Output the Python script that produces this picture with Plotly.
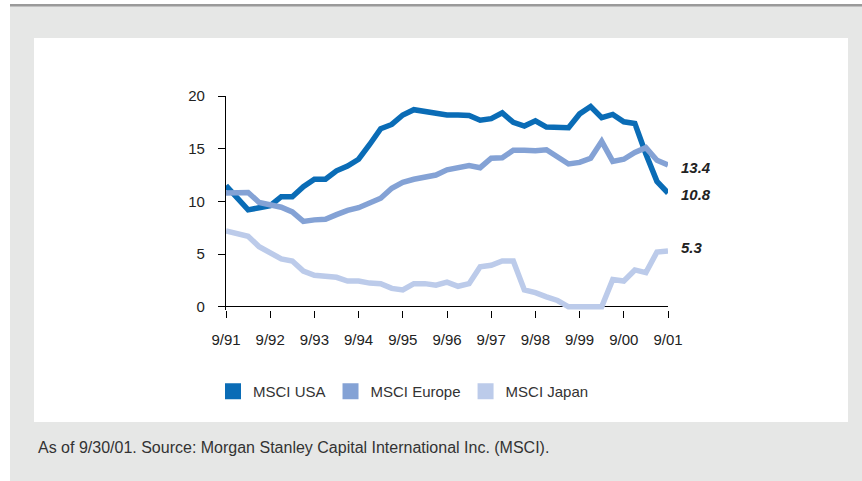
import plotly.graph_objects as go

quarters = list(range(41))
tick_pos = [0, 4, 8, 12, 16, 20, 24, 28, 32, 36, 40]
tick_labels = ["9/91", "9/92", "9/93", "9/94", "9/95", "9/96", "9/97", "9/98", "9/99", "9/00", "9/01"]

usa = [11.5, 10.35, 9.2, 9.4, 9.6, 10.45, 10.45, 11.4, 12.1, 12.1, 12.9, 13.36, 14.0,
       15.4, 16.9, 17.3, 18.2, 18.7, 18.5, 18.3, 18.2, 18.2, 18.15, 17.7, 17.85, 18.4,
       17.5, 17.15, 17.65, 17.05, 17.0, 17.0, 18.3, 19.0, 17.95, 18.25, 17.55, 17.4,
       14.5, 11.9, 10.8]
europe = [10.8, 10.85, 10.85, 9.9, 9.65, 9.45, 9.0, 8.1, 8.25, 8.3, 8.75, 9.15, 9.4,
          9.9, 10.3, 11.25, 11.8, 12.1, 12.35, 12.5, 13.0, 13.25, 13.4, 13.2, 14.1, 14.15,
          14.85, 14.85, 14.8, 14.9, 14.25, 13.55, 13.7, 14.1, 15.7, 13.8, 14.0, 14.65,
          15.1, 13.9, 13.45]
japan = [7.2, 6.9, 6.7, 5.7, 5.1, 4.55, 4.35, 3.4, 3.0, 2.9, 2.8, 2.45, 2.45, 2.25,
         2.2, 1.75, 1.6, 2.2, 2.2, 2.05, 2.35, 1.95, 2.2, 3.8, 3.95, 4.35, 4.35, 1.6,
         1.35, 0.95, 0.6, 0, 0, 0, 0, 2.6, 2.45, 3.5, 3.25, 5.2, 5.3]

series_names = ["MSCI USA", "MSCI Europe", "MSCI Japan"]
end_labels = ["10.8", "13.4", "5.3"]
colors = ["#0a6cb6", "#84a2d5", "#bccbea"]
footer = "As of 9/30/01. Source: Morgan Stanley Capital International Inc. (MSCI)."

FONT = "Liberation Sans, Arial, Helvetica, sans-serif"

fig = go.Figure()
for name, vals, col in zip(series_names, [usa, europe, japan], colors):
    fig.add_trace(go.Scatter(x=quarters, y=vals, mode="lines", name=name,
                             line=dict(color=col, width=5.5), showlegend=False))
    fig.add_trace(go.Scatter(x=[None], y=[None], mode="markers", name=name,
                             marker=dict(symbol="square", size=19, color=col),
                             showlegend=True))

# end-of-line value labels (small vertical nudges as in the original)
label_nudge = {"10.8": -2, "13.4": -2, "5.3": 3}
for vals, lab in zip([usa, europe, japan], end_labels):
    fig.add_annotation(x=quarters[-1], y=vals[-1], text="<b><i>" + lab + "</i></b>",
                       showarrow=False, xanchor="left", yanchor="middle", xshift=11,
                       yshift=label_nudge[lab],
                       font=dict(family=FONT, size=15, color="#222222"))

L, R, T, B = 226, 194, 96, 171
W, H = 862, 481
pw, ph = W - L - R, H - T - B


def px(X):
    return (X - L) / pw


def py(Y):
    return (H - B - Y) / ph


# footer
fig.add_annotation(xref="paper", yref="paper", x=px(36), y=py(447), text=footer,
                   showarrow=False, xanchor="left", yanchor="middle",
                   font=dict(family=FONT, size=16, color="#333333"))

# gray background, top rule and white panel
fig.add_shape(type="rect", xref="paper", yref="paper", x0=px(10), x1=px(870),
              y0=py(4), y1=py(490), fillcolor="#e6e7e6", line_width=0, layer="below")
fig.add_shape(type="rect", xref="paper", yref="paper", x0=px(10), x1=px(870),
              y0=py(4), y1=py(6.5), fillcolor="#9a9a9a", line_width=0, layer="below")
fig.add_shape(type="rect", xref="paper", yref="paper", x0=px(34), x1=px(848),
              y0=py(38), y1=py(422), fillcolor="#ffffff", line_width=0, layer="below")

fig.update_layout(
    width=W, height=H,
    margin=dict(l=L, r=R, t=T, b=B, pad=0),
    paper_bgcolor="#ffffff",
    plot_bgcolor="rgba(0,0,0,0)",
    font=dict(family=FONT, size=15, color="#222222"),
    showlegend=True,
    legend=dict(orientation="h", x=px(213), y=py(375), xanchor="left", yanchor="top",
                bgcolor="rgba(0,0,0,0)", font=dict(family=FONT, size=15, color="#333333"),
                itemsizing="trace", traceorder="normal"),
    xaxis=dict(range=[0, 40], tickmode="array", tickvals=tick_pos, ticktext=tick_labels,
               showgrid=False, zeroline=False, showline=False, ticks="outside",
               ticklen=7, tickcolor="#000000", tickwidth=1.3, ticklabelstandoff=9,
               tickfont=dict(size=15), fixedrange=True),
    yaxis=dict(range=[-0.3, 20], tickmode="array", tickvals=[0, 5, 10, 15, 20],
               showgrid=False, zeroline=True, zerolinecolor="#000000", zerolinewidth=1.3,
               showline=True, linecolor="#000000", linewidth=1.3, ticks="outside",
               ticklen=7, tickcolor="#000000", tickwidth=1.3, ticklabelstandoff=10,
               tickfont=dict(size=15), fixedrange=True),
)

fig.write_html("out.html", config={"displayModeBar": False},
               post_script="document.body.style.margin='0';document.body.style.overflow='hidden';")
